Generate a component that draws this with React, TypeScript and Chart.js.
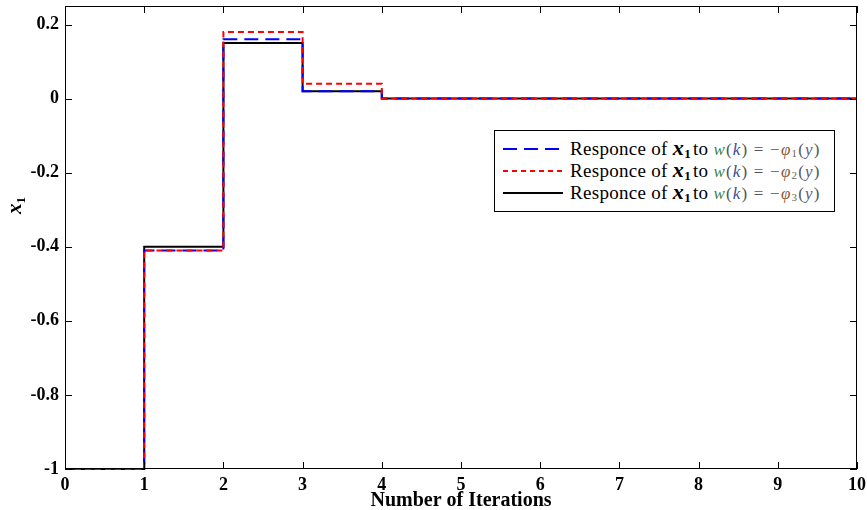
import React, { useEffect, useRef } from "react";
import { Chart, registerables } from "chart.js";

Chart.register(...registerables);

const iterations = [0, 1, 2, 3, 4, 5, 6, 7, 8, 9, 10];
const response1 = [-1, -0.41, 0.16, 0.02, 0, 0, 0, 0, 0, 0, 0];
const response2 = [-1, -0.41, 0.18, 0.04, 0, 0, 0, 0, 0, 0, 0];
const response3 = [-1, -0.40, 0.15, 0.02, 0, 0, 0, 0, 0, 0, 0];
const yTicks = [-1, -0.8, -0.6, -0.4, -0.2, 0, 0.2];
const xTicks = [0, 1, 2, 3, 4, 5, 6, 7, 8, 9, 10];
const xTitle = "Number of Iterations";

const FONT = "'Liberation Serif', 'Times New Roman', serif";

const inwardTicks = {
  id: "inwardTicks",
  afterDraw(chart: any) {
    const { ctx, chartArea: a, scales } = chart;
    ctx.save();
    ctx.strokeStyle = "#000";
    ctx.lineWidth = 1;
    ctx.strokeRect(a.left + 0.5, a.top + 0.5, a.right - a.left - 1, a.bottom - a.top - 1);
    const L = 7;
    for (const v of xTicks) {
      const x = Math.round(scales.x.getPixelForValue(v)) + 0.5;
      ctx.beginPath();
      ctx.moveTo(x, a.bottom);
      ctx.lineTo(x, a.bottom - L);
      ctx.moveTo(x, a.top);
      ctx.lineTo(x, a.top + L);
      ctx.stroke();
    }
    for (const v of yTicks) {
      const y = Math.round(scales.y.getPixelForValue(v)) + 0.5;
      ctx.beginPath();
      ctx.moveTo(a.left, y);
      ctx.lineTo(a.left + L, y);
      ctx.moveTo(a.right, y);
      ctx.lineTo(a.right - L, y);
      ctx.stroke();
    }
    ctx.restore();
  },
};

function ChartView() {
  const ref = useRef<HTMLCanvasElement | null>(null);
  useEffect(() => {
    const mk = (arr: number[]) => iterations.map((x, i) => ({ x, y: arr[i] }));
    const chart = new Chart(ref.current as HTMLCanvasElement, {
      type: "line",
      data: {
        datasets: [
          {
            label: "Responce of x1 to w(k) = -φ1(y)",
            data: mk(response1),
            borderColor: "#0000ff",
            borderWidth: 2,
            borderDash: [14, 7],
            stepped: "before",
            pointRadius: 0,
            fill: false,
            clip: 4,
            order: 1,
          },
          {
            label: "Responce of x1 to w(k) = -φ2(y)",
            data: mk(response2),
            borderColor: "#ff0000",
            borderWidth: 2,
            borderDash: [6, 4],
            stepped: "before",
            pointRadius: 0,
            fill: false,
            clip: 4,
            order: 0,
          },
          {
            label: "Responce of x1 to w(k) = -φ3(y)",
            data: mk(response3),
            borderColor: "#000000",
            borderWidth: 2,
            stepped: "before",
            pointRadius: 0,
            fill: false,
            clip: 4,
            order: 2,
          },
        ],
      },
      options: {
        animation: false,
        responsive: false,
        maintainAspectRatio: false,
        layout: { padding: { top: 6, right: 10, left: 0, bottom: 0 } },
        plugins: { legend: { display: false }, tooltip: { enabled: false } },
        scales: {
          x: {
            type: "linear",
            min: 0,
            max: 10,
            afterBuildTicks: (s: any) => {
              s.ticks = xTicks.map((v) => ({ value: v }));
            },
            afterFit: (s: any) => {
              s.height = 41;
              s.paddingLeft = 0;
              s.paddingRight = 0;
            },
            grid: { display: false, drawTicks: false },
            border: { display: false },
            ticks: {
              color: "#000",
              padding: 6,
              maxRotation: 0,
              font: { family: FONT, size: 18, weight: "bold" },
            },
            title: {
              display: true,
              text: xTitle,
              color: "#000",
              padding: { top: 0, bottom: -3 },
              font: { family: FONT, size: 20, weight: "bold" },
            },
          },
          y: {
            type: "linear",
            min: -1,
            max: 0.25,
            afterBuildTicks: (s: any) => {
              s.ticks = yTicks.map((v) => ({ value: v }));
            },
            afterFit: (s: any) => {
              s.width = 65;
              s.paddingTop = 0;
              s.paddingBottom = 0;
            },
            grid: { display: false, drawTicks: false },
            border: { display: false },
            ticks: {
              color: "#000",
              padding: 6,
              font: { family: FONT, size: 18, weight: "bold" },
              callback: (v: any) => {
                const n = Math.round(Number(v) * 10) / 10;
                return n === 0 ? "0" : String(n);
              },
            },
            title: { display: false },
          },
        },
      },
      plugins: [inwardTicks],
    } as any);
    return () => chart.destroy();
  }, []);
  return <canvas ref={ref} width={867} height={510} style={{ display: "block", width: 867, height: 510 }} />;
}

const legendRows = [
  { color: "#0000ff", dash: "14 7", idx: "1" },
  { color: "#ff0000", dash: "5 4", idx: "2" },
  { color: "#000000", dash: "", idx: "3" },
];

function Legend() {
  return (
    <div
      style={{
        position: "absolute",
        left: 494,
        top: 130,
        width: 339,
        height: 80,
        border: "1px solid #000",
        background: "#fff",
        fontFamily: FONT,
      }}
    >
      {legendRows.map((r, i) => (
        <div
          key={i}
          style={{
            position: "absolute",
            left: 0,
            top: 6 + i * 22,
            height: 22,
            width: 339,
            whiteSpace: "nowrap",
          }}
        >
          <svg width={64} height={22} style={{ position: "absolute", left: 6, top: 0 }}>
            <line x1={2} y1={12} x2={62} y2={12} stroke={r.color} strokeWidth={2} strokeDasharray={r.dash || undefined} />
          </svg>
          <div style={{ position: "absolute", left: 75, top: 0, fontSize: 19, color: "#000", lineHeight: "22px", letterSpacing: "0.3px" }}>
            Responce of{" "}
            <span style={{ fontStyle: "italic", fontWeight: "bold", fontSize: 22 }}>x</span>
            <sub style={{ fontWeight: "bold", fontSize: 13, verticalAlign: "-3px" }}>1</sub>
            <span style={{ marginLeft: 2 }}>to </span>
            <span style={{ fontSize: 17, letterSpacing: "1.2px" }}>
              <span style={{ fontStyle: "italic", color: "#3f7f3f" }}>w</span>
              <span style={{ color: "#555" }}>(</span>
              <span style={{ fontStyle: "italic", color: "#3a4f8f" }}>k</span>
              <span style={{ color: "#555" }}>) = −</span>
              <span style={{ fontStyle: "italic", color: "#8a5a3a" }}>φ</span>
              <sub style={{ fontSize: 11, color: "#6a6a4a", verticalAlign: "-2px" }}>{r.idx}</sub>
              <span style={{ color: "#555" }}>(</span>
              <span style={{ fontStyle: "italic", color: "#5a5a8a" }}>y</span>
              <span style={{ color: "#555" }}>)</span>
            </span>
          </div>
        </div>
      ))}
    </div>
  );
}

function YTitle() {
  return (
    <div
      style={{
        position: "absolute",
        left: 9,
        top: 192,
        transform: "rotate(-90deg)",
        transformOrigin: "center",
        fontFamily: FONT,
        fontWeight: "bold",
        fontStyle: "italic",
        fontSize: 21,
        color: "#000",
        whiteSpace: "nowrap",
        lineHeight: "20px",
      }}
    >
      x<sub style={{ fontSize: 13, fontStyle: "normal", verticalAlign: "-4px" }}>1</sub>
    </div>
  );
}

export default function App() {
  useEffect(() => {
    document.body.style.margin = "0";
  }, []);
  return (
    <div style={{ position: "relative", width: 867, height: 510, background: "#fff" }}>
      <ChartView />
      <Legend />
      <YTitle />
    </div>
  );
}
